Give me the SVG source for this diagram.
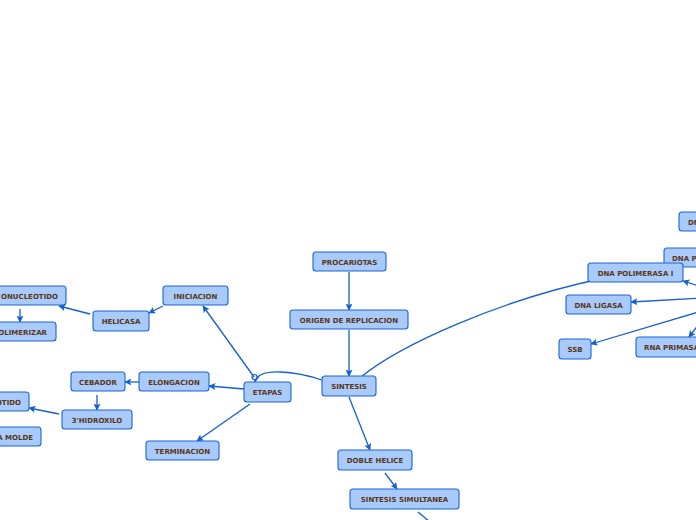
<svg xmlns="http://www.w3.org/2000/svg" width="696" height="520" viewBox="0 0 696 520">
<style>
.n rect{fill:#a8cbfb;stroke:#1d64d6;stroke-width:1.1}
.n text{font-family:"DejaVu Sans",Verdana,sans-serif;font-weight:bold;font-size:7px;fill:#5b3514;text-anchor:middle}
.n text.e{text-anchor:end}
.n text.s{text-anchor:start}
#connectors path{fill:none;stroke:#145fd1;stroke-width:1.3}
#connectors .a{marker-end:url(#arr)}
</style>
<defs>
<marker id="arr" viewBox="0 0 10 10" refX="9" refY="5" markerWidth="7" markerHeight="7" orient="auto" markerUnits="userSpaceOnUse">
<path d="M0,0 L10,5 L0,10 L2,5 z" fill="#145fd1"/>
</marker>
</defs>
<rect width="696" height="520" fill="#ffffff"/>
<g id="connectors">
<path class="a" d="M349,272 L349,310"/>
<path class="a" d="M349,330 L349,376"/>
<path d="M361,377 C400,345 500,300 600,279"/>
<path class="a" d="M322,380 C298,372 258,366 255,382"/>
<circle cx="254.5" cy="377" r="2.5" fill="#ffffff" stroke="#145fd1" stroke-width="1.2"/>
<path class="a" d="M254,377 L203,306"/>
<path class="a" d="M244,389 L209,386"/>
<path class="a" d="M250,404 L197,441"/>
<path class="a" d="M163,306 L149,313"/>
<path class="a" d="M90,314 L59,306"/>
<path class="a" d="M20,309 L20,322"/>
<path class="a" d="M139,382 L125,382"/>
<path class="a" d="M97,395 L97,410"/>
<path class="a" d="M59,414 L29,408"/>
<path class="a" d="M349,397 L370,450"/>
<path class="a" d="M385,473 L397,489"/>
<path d="M418,512 L430,522"/>
<path class="a" d="M702,287 L683,281"/>
<path class="a" d="M702,298 L631,302"/>
<path class="a" d="M702,311 L591,344"/>
<path class="a" d="M702,320 L689,337"/>
</g>
<g id="n-procariotas" class="n"><rect x="313" y="252" width="73" height="19" rx="3"/><text x="349.5" y="264.5">PROCARIOTAS</text></g>
<g id="n-origen" class="n"><rect x="290" y="310" width="118" height="19" rx="3"/><text x="349" y="322.5">ORIGEN DE REPLICACION</text></g>
<g id="n-sintesis" class="n"><rect x="322" y="376" width="54" height="20" rx="3"/><text x="349" y="388.5">SINTESIS</text></g>
<g id="n-etapas" class="n"><rect x="244" y="382" width="47" height="20" rx="3"/><text x="267.5" y="394.5">ETAPAS</text></g>
<g id="n-iniciacion" class="n"><rect x="163" y="286" width="65" height="19" rx="3"/><text x="195.5" y="298.5">INICIACION</text></g>
<g id="n-helicasa" class="n"><rect x="93" y="311" width="56" height="20" rx="3"/><text x="121" y="323.5">HELICASA</text></g>
<g id="n-nucleotido1" class="n"><rect x="-40" y="286" width="106" height="19" rx="3"/><text class="e" x="58" y="298.5">ONUCLEOTIDO</text></g>
<g id="n-polimerizar" class="n"><rect x="-40" y="322" width="96" height="19" rx="3"/><text class="e" x="47" y="334.5">OLIMERIZAR</text></g>
<g id="n-elongacion" class="n"><rect x="139" y="372" width="70" height="19" rx="3"/><text x="174" y="384.5">ELONGACION</text></g>
<g id="n-cebador" class="n"><rect x="71" y="372" width="54" height="19" rx="3"/><text x="98" y="384.5">CEBADOR</text></g>
<g id="n-hidroxilo" class="n"><rect x="62" y="410" width="70" height="19" rx="3"/><text x="97" y="422.5">3'HIDROXILO</text></g>
<g id="n-nucleotido2" class="n"><rect x="-40" y="392" width="69" height="19" rx="3"/><text class="e" x="21" y="404.5">OTIDO</text></g>
<g id="n-molde" class="n"><rect x="-40" y="427" width="81" height="19" rx="3"/><text class="e" x="33" y="439.5">A MOLDE</text></g>
<g id="n-terminacion" class="n"><rect x="146" y="441" width="73" height="19" rx="3"/><text x="182.5" y="453.5">TERMINACION</text></g>
<g id="n-doble" class="n"><rect x="338" y="450" width="74" height="20" rx="3"/><text x="375" y="462.5">DOBLE HELICE</text></g>
<g id="n-simultanea" class="n"><rect x="350" y="489" width="109" height="20" rx="3"/><text x="404.5" y="501.5">SINTESIS SIMULTANEA</text></g>
<g id="n-dn" class="n"><rect x="679" y="212" width="60" height="19" rx="3"/><text class="s" x="688" y="224.5">DN</text></g>
<g id="n-dnap" class="n"><rect x="664" y="248" width="60" height="19" rx="3"/><text class="s" x="672" y="260.5">DNA P</text></g>
<g id="n-dnapol1" class="n"><rect x="588" y="263" width="95" height="19" rx="3"/><text x="635.5" y="275.5">DNA POLIMERASA I</text></g>
<g id="n-ligasa" class="n"><rect x="566" y="295" width="65" height="19" rx="3"/><text x="598.5" y="307.5">DNA LIGASA</text></g>
<g id="n-ssb" class="n"><rect x="559" y="339" width="32" height="20" rx="3"/><text x="575" y="351.5">SSB</text></g>
<g id="n-primasa" class="n"><rect x="636" y="337" width="70" height="20" rx="3"/><text class="s" x="644" y="349.5">RNA PRIMASA</text></g>
</svg>
